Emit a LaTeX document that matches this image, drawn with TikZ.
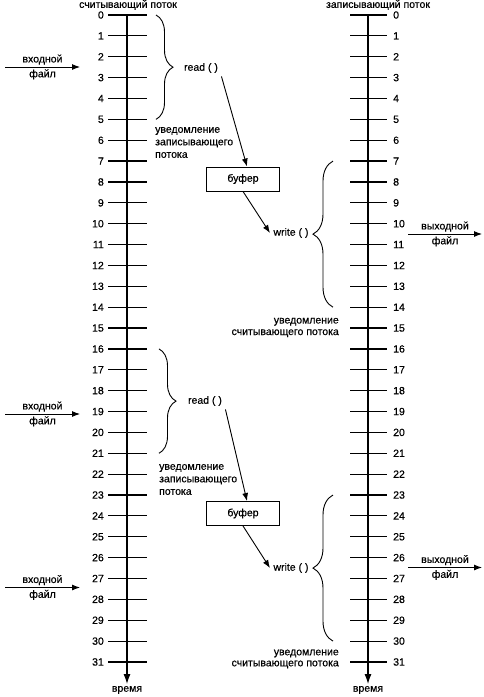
\documentclass[tikz,border=0pt]{standalone}
\usepackage{fontspec}
\setmainfont{Liberation Sans}[FakeBold=0.5]
\usetikzlibrary{arrows.meta, positioning, decorations.pathreplacing}

\begin{document}
\begin{tikzpicture}[
  x=1pt, y=-1pt,
  font=\fontsize{10.5}{12.5}\selectfont,
  axis/.style={line width=1.1pt, -{Latex[length=10pt,width=7pt]}},
  tick/.style={line width=1.2pt},
  num/.style={inner sep=0pt},
  arrow/.style={-{Latex[length=8pt,width=6pt]}, line width=0.9pt},
  brace/.style={decorate, decoration={brace, amplitude=#1}, line width=0.9pt},
  note/.style={inner sep=0pt},
  buffbox/.style={draw, line width=0.9pt, minimum width=73pt, minimum height=24pt}
]
\useasboundingbox (0,0) rectangle (483,697);

% Time axes
\node (Ltitle) at (128,5) {считывающий поток};
\node (Rtitle) at (378,5) {записывающий поток};
\coordinate (Ltop) at (127,15);
\coordinate (Lend) at (127,684);
\coordinate (Rtop) at (368,15);
\coordinate (Rend) at (368,684);
\draw[axis] (Ltop) -- (Lend);
\draw[axis] (Rtop) -- (Rend);
\node (Ltime) at (127,690) {время};
\node (Rtime) at (368,690) {время};

% Ticks and their numbers
\foreach \i in {0,...,31} {
  \draw[tick] (108,{15+20.87*\i}) -- (147,{15+20.87*\i});
  \draw[tick] (350,{15+20.87*\i}) -- (387,{15+20.87*\i});
  \node[num, anchor=east] (L\i) at (104,{15+20.87*\i}) {\i};
  \node[num, anchor=west] (R\i) at (393,{15+20.87*\i}) {\i};
}

% Input files
\coordinate (in1a) at (5,67);    \coordinate (in1b) at (80,67);
\coordinate (in2a) at (5,414);   \coordinate (in2b) at (80,414);
\coordinate (in3a) at (5,587.5); \coordinate (in3b) at (80,587.5);
\foreach \k in {1,2,3} {
  \draw[arrow] (in\k a) -- node[above, inner sep=2pt] (in\k t) {входной}
    node[below, inner sep=2pt] (in\k f) {файл} (in\k b);
}

% Output files
\coordinate (out1a) at (408,234);   \coordinate (out1b) at (482,234);
\coordinate (out2a) at (408,567.5); \coordinate (out2b) at (482,567.5);
\foreach \k in {1,2} {
  \draw[arrow] (out\k a) -- node[above, inner sep=2pt] (out\k t) {выходной}
    node[below, inner sep=2pt] (out\k f) {файл} (out\k b);
}

% Group 1
\coordinate (rb1a) at (156,{15+20.87*0});
\coordinate (rb1b) at (156,{15+20.87*5});
\draw[brace=17pt] (rb1a) -- (rb1b);
\node (read1) at (201,68) {read ( )};
\node[note, align=left, anchor=west] (note1) at (155,142.5)
  {уведомление\\записывающего\\потока};
\node[buffbox] (buf1) at (243,179) {буфер};
\node (write1) at (291,233) {write ( )};
\coordinate (wb1a) at (333,{15+20.87*14});
\coordinate (wb1b) at (333,{15+20.87*7});
\draw[brace=20pt] (wb1a) -- (wb1b);
\node[note, align=right, anchor=east,
  font=\fontsize{10.5}{11.5}\selectfont] (note2) at (339,327.5)
  {уведомление\\считывающего потока};
\draw[arrow] (read1.south east) -- ([xshift=4pt]buf1.north);
\draw[arrow] (buf1.south) -- (write1.west);

% Group 2
\coordinate (rb2a) at (159,{15+20.87*16});
\coordinate (rb2b) at (159,{15+20.87*21});
\draw[brace=17pt] (rb2a) -- (rb2b);
\node (read2) at (205,401) {read ( )};
\node[note, align=left, anchor=west] (note3) at (159,479.5)
  {уведомление\\записывающего\\потока};
\node[buffbox] (buf2) at (243,513.5) {буфер};
\node (write2) at (291,568) {write ( )};
\coordinate (wb2a) at (333,{15+20.87*30});
\coordinate (wb2b) at (333,{15+20.87*23});
\draw[brace=20pt] (wb2a) -- (wb2b);
\node[note, align=right, anchor=east,
  font=\fontsize{10.5}{11}\selectfont] (note4) at (339,659)
  {уведомление\\считывающего потока};
\draw[arrow] (read2.south east) -- ([xshift=4pt]buf2.north);
\draw[arrow] (buf2.south) -- (write2.west);

\end{tikzpicture}
\end{document}
